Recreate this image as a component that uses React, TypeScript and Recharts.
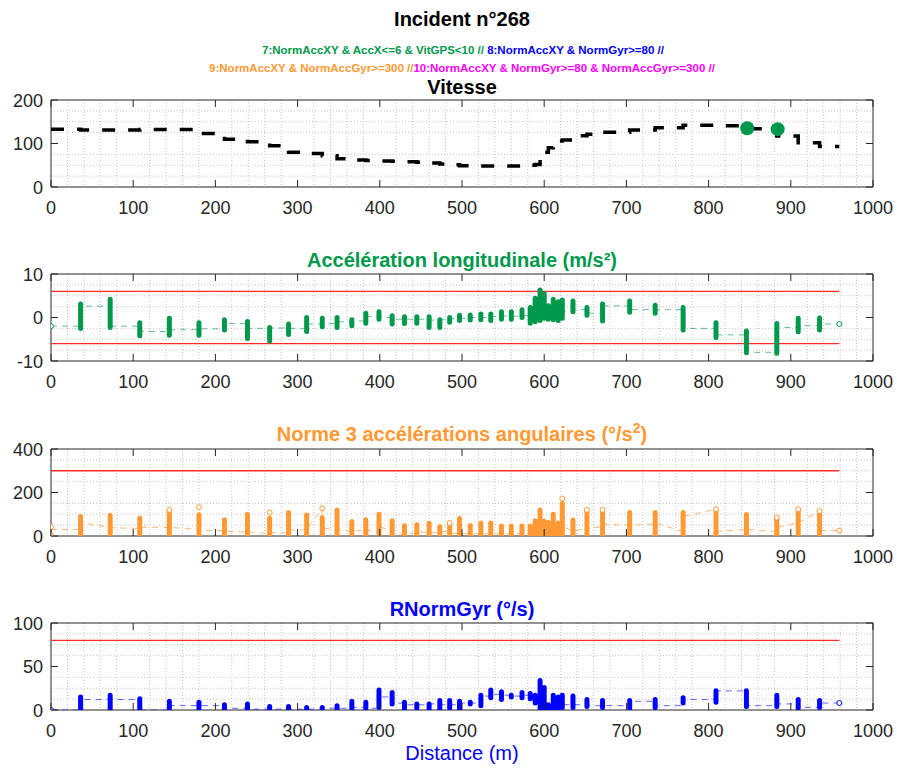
import React from 'react';
import { ComposedChart, Line, Scatter, XAxis, YAxis, CartesianGrid, ReferenceArea } from 'recharts';

const FONT = '"Liberation Sans", Arial, Helvetica, sans-serif';
const AXIS_COLOR = '#262626';
const GREEN = '#00994c';
const ORANGE = '#ff9933';
const BLUE = '#0000ff';
const MAGENTA = '#ff00ff';
const RED = '#ff2a2a';

const W = 897;
const LEFT = 51;
const RIGHT = 873;
const PLOT_W = RIGHT - LEFT;
const PLOT_H = 87;
const PAD_TOP = 10;
const PAD_BOTTOM = 40;

// x axis
const X_TICKS = [0, 100, 200, 300, 400, 500, 600, 700, 800, 900, 1000];
const X_MINOR = [20, 40, 60, 80, 120, 140, 160, 180, 220, 240, 260, 280, 320, 340, 360, 380, 420, 440, 460, 480, 520, 540, 560, 580, 620, 640, 660, 680, 720, 740, 760, 780, 820, 840, 860, 880, 920, 940, 960, 980];

// distance of each GPS station (m)
const DIST = [0, 36, 72, 108, 144, 180, 211, 239, 266, 289, 311, 330, 348, 366, 383, 399, 415, 430, 445, 460, 473, 485, 497, 510, 523, 535, 548, 560, 573, 583, 589, 595, 600, 605, 611, 617, 622, 635, 652, 671, 704, 735, 769, 809, 846, 883, 909, 935, 959];

// Vitesse (km/h) held after each station
const SPEED = [133, 131, 131, 132, 132, 123, 110, 104, 95, 80, 77, 72, 65, 62, 61, 60, 59, 58, 57, 55, 53, 51, 49, 48, 48, 48, 48, 48, 50, 50, 52, 62, 80, 90, 104, 106, 108, 118, 121, 126, 131, 136, 142, 141, 134, 117, 102, 93, 93];
const EVENT7_DIST = [847, 884];
const EVENT7_SPEED = [135, 133];

// Accélération longitudinale (m/s²): spread at each station and level carried to the next one
const ACC_LO = [null, -2.5, -2.3, -4.2, -4.1, -4.1, -2.9, -4.8, -5.4, -3.9, -3.2, -2.1, -2.3, -1.9, -1.3, -0.4, -1.5, -1.4, -1.3, -2.3, -2.3, -1.1, -0.7, -0.6, -0.5, -0.7, -0.4, -0.4, 0, -1.3, -1.0, -0.7, -0.2, -0.4, -0.5, -0.7, -0.2, 1.3, 0.5, -0.8, 1.2, 1.0, -2.9, -4.6, -8.1, -8.2, -3.3, -2.9, null];
const ACC_HI = [null, 3.1, 4.2, -1.2, -0.2, -1.2, -0.5, -0.9, -2.3, -1.5, 0, -0.2, 0, -0.5, 1.0, 1.3, 0.4, 0.2, 0.2, 0.2, -0.5, 0, 0.5, 0.6, 0.8, 0.8, 1.3, 1.3, 1.8, 2.3, 4.4, 6.3, 5.5, 2.7, 4.2, 3.6, 4.0, 3.8, 2.3, 3.1, 3.8, 2.8, 2.3, -1.2, -3.1, -1.4, -0.2, -0.1, null];
const ACC_LINK = [-2, 2.6, -2.0, -3.2, -2.8, -2.6, -1.4, -2.5, -2.4, -2.5, -1.5, -1.4, -1.0, -0.8, 0.2, 0, -0.4, -0.4, -0.4, -0.6, -0.5, -0.3, -0.2, 0, 0, 0.2, 0.3, 0.3, 0.5, 0.5, 1.0, 2.0, 1.0, 0.5, 1.0, 1.0, 1.5, 1.8, 1.0, 2.7, 1.8, 1.8, -2.5, -4.0, -8.0, -2.3, -1.9, -1.5, -1.5];
const ACC_MARK_DIST = [0, 959];
const ACC_MARK_VAL = [-2, -1.5];
const ACC_LIMIT = 6;

// Norme 3 accélérations angulaires (°/s²)
const ANG_LO = [null, 0, 0, 0, 0, 0, 0, 0, 0, 0, 0, 0, 0, 0, 0, 8, 0, 0, 0, 0, 0, 0, 0, 0, 0, 0, 0, 0, 0, 0, 0, 0, 0, 0, 0, 0, 0, 0, 0, 0, 0, 0, 0, 0, 0, 0, 0, 0, null];
const ANG_HI = [null, 90, 95, 82, 110, 98, 75, 100, 82, 108, 97, 85, 120, 67, 75, 100, 70, 47, 52, 59, 43, 55, 80, 48, 60, 60, 46, 46, 46, 46, 70, 120, 68, 62, 100, 60, 150, 74, 110, 115, 108, 108, 108, 115, 99, 80, 115, 100, null];
const ANG_IN = [30, 30, 40, 35, 40, 30, 25, 18, 10, 15, 28, 127, 30, 20, 25, 15, 20, 10, 15, 15, 15, 20, 10, 10, 10, 10, 10, 10, 10, 12, 15, 30, 20, 15, 20, 15, 30, 20, 40, 45, 50, 55, 20, 123, 30, 20, 60, 115, 25];
const ANG_OUT = [30, 62, 38, 40, 40, 25, 22, 20, 15, 28, 30, 35, 30, 25, 30, 45, 10, 10, 20, 15, 20, 15, 10, 10, 10, 10, 10, 10, 10, 12, 15, 30, 20, 15, 20, 15, 45, 20, 30, 55, 50, 60, 90, 20, 30, 40, 60, 25, 25];
const ANG_MARK_DIST = [0, 0, 144, 180, 266, 330, 485, 622, 652, 671, 809, 883, 909, 935, 959];
const ANG_MARK_VAL = [42, 5, 120, 132, 108, 127, 60, 172, 120, 120, 123, 85, 123, 115, 25];
const ANG_LIMIT = 300;

// RNormGyr (°/s)
const GYR_LO = [null, 0, 0, 0, 0, 0, 0, 0, 1, 0, 0, 0, 0, 0, 1, 3, 7, 0, 2, 1, 1, 2, 0, 7, 5, 14, 12, 15, 14, 13, 8, 0, 0, 0, 0, 2, 3, 3, 4, 3, 2, 3, 8, 9, 4, 4, 2, 3, null];
const GYR_HI = [null, 15, 17, 13, 10, 9, 6, 7, 4, 4, 3, 3, 5, 10, 9, 23, 20, 9, 7, 7, 11, 11, 10, 9, 17, 23, 21, 17, 20, 19, 17, 34, 26, 6, 17, 15, 17, 16, 12, 11, 11, 12, 14, 22, 22, 17, 12, 11, null];
const GYR_LINK = [0, 12, 12, 0, 5, 5, 2, 1, 1, 1, 1, 2, 2, 3, 2, 15, 8, 6, 6, 7, 6, 6, 8, 8, 16, 18, 17, 16, 17, 16, 14, 10, 3, 2, 3, 5, 6, 6, 5, 5, 10, 5, 12, 22, 5, 7, 3, 8, 8];
const GYR_MARK_DIST = [0, 959];
const GYR_MARK_VAL = [0, 8];
const GYR_LIMIT = 80;

const LIMIT_END = 959;

type Pt = { x: number; y: number | null };

// vertical spread at each station, separated by gaps
function spread(lo: (number | null)[], hi: (number | null)[]): Pt[] {
  const out: Pt[] = [];
  DIST.forEach((d, i) => {
    const a = lo[i];
    const b = hi[i];
    if (a == null || b == null) return;
    out.push({ x: d, y: a }, { x: d, y: b }, { x: d, y: null });
  });
  return out;
}

function series(values: number[]): Pt[] {
  return DIST.map((d, i) => ({ x: d, y: values[i] }));
}

function inOut(inV: number[], outV: number[]): Pt[] {
  const out: Pt[] = [];
  DIST.forEach((d, i) => {
    out.push({ x: d, y: inV[i] }, { x: d, y: outV[i] });
  });
  return out;
}

function marks(ds: number[], vs: number[]): Pt[] {
  return ds.map((d, i) => ({ x: d, y: vs[i] }));
}

function limit(v: number): Pt[] {
  return [{ x: 0, y: v }, { x: LIMIT_END, y: v }];
}

const XTick = (props: any) => {
  const { x, y, payload } = props;
  return (
    <g>
      <line x1={x} y1={y} x2={x} y2={y - 7} stroke={AXIS_COLOR} strokeWidth={1} />
      <line x1={x} y1={y - PLOT_H} x2={x} y2={y - PLOT_H + 7} stroke={AXIS_COLOR} strokeWidth={1} />
      <text x={x} y={y + 26.5} textAnchor="middle" fontSize={18} fontFamily={FONT} fill={AXIS_COLOR}>
        {payload.value}
      </text>
    </g>
  );
};

const YTick = (props: any) => {
  const { x, y, payload } = props;
  return (
    <g>
      <line x1={x} y1={y} x2={x + 7} y2={y} stroke={AXIS_COLOR} strokeWidth={1} />
      <line x1={x + PLOT_W - 7} y1={y} x2={x + PLOT_W} y2={y} stroke={AXIS_COLOR} strokeWidth={1} />
      <text x={x - 8} y={y + 6.5} textAnchor="end" fontSize={18} fontFamily={FONT} fill={AXIS_COLOR}>
        {payload.value}
      </text>
    </g>
  );
};

const hollow = (color: string) => (p: any) => (
  <circle cx={p.cx} cy={p.cy} r={2.5} fill="#ffffff" stroke={color} strokeWidth={1} />
);

const bigDot = (p: any) => <circle cx={p.cx} cy={p.cy} r={7} fill={GREEN} />;

function Panel(props: {
  top: number;
  domain: [number, number];
  ticks: number[];
  minor: number[];
  children: React.ReactNode;
}) {
  const { top, domain, ticks, minor, children } = props;
  return (
    <div style={{ position: 'absolute', left: 0, top: top - PAD_TOP }}>
      <ComposedChart
        width={W}
        height={PLOT_H + PAD_TOP + PAD_BOTTOM}
        margin={{ top: PAD_TOP, right: W - RIGHT, bottom: PAD_BOTTOM - 1, left: LEFT - 1 }}
      >
        <CartesianGrid
          stroke="#c4c4c4"
          strokeDasharray="1 2"
          verticalValues={X_MINOR}
          horizontalValues={minor}
        />
        <XAxis
          type="number"
          dataKey="x"
          domain={[0, 1000]}
          ticks={X_TICKS}
          interval={0}
          height={1}
          tickSize={0}
          tickMargin={0}
          tickLine={false}
          axisLine={false}
          allowDataOverflow
          tick={XTick}
        />
        <YAxis
          type="number"
          dataKey="y"
          domain={domain}
          ticks={ticks}
          interval={0}
          width={1}
          tickSize={0}
          tickMargin={0}
          tickLine={false}
          axisLine={false}
          allowDataOverflow
          tick={YTick}
        />
        <ReferenceArea x1={0} x2={1000} y1={domain[0]} y2={domain[1]} fill="none" stroke={AXIS_COLOR} strokeWidth={1} ifOverflow="visible" />
        {children}
      </ComposedChart>
    </div>
  );
}

export default function App() {
  return (
    <div style={{ position: 'absolute', left: 0, top: 0, width: W, height: 769, background: '#ffffff', fontFamily: FONT }}>
      <Panel top={100} domain={[0, 200]} ticks={[0, 100, 200]} minor={[25, 50, 75, 125, 150, 175]}>
        <Line
          data={series(SPEED)}
          dataKey="y"
          type="stepAfter"
          stroke="#000000"
          strokeWidth={3.5}
          strokeDasharray="13 13"
          dot={false}
          isAnimationActive={false}
        />
        <Scatter data={marks(EVENT7_DIST, EVENT7_SPEED)} dataKey="y" shape={bigDot} isAnimationActive={false} />
      </Panel>

      <Panel top={274} domain={[-10, 10]} ticks={[-10, 0, 10]} minor={[-7.5, -5, -2.5, 2.5, 5, 7.5]}>
        <Line data={limit(ACC_LIMIT)} dataKey="y" stroke={RED} strokeWidth={1.3} dot={false} isAnimationActive={false} />
        <Line data={limit(-ACC_LIMIT)} dataKey="y" stroke={RED} strokeWidth={1.3} dot={false} isAnimationActive={false} />
        <Line
          data={series(ACC_LINK)}
          dataKey="y"
          type="stepAfter"
          stroke={GREEN}
          strokeOpacity={0.6}
          strokeWidth={1}
          strokeDasharray="6 5"
          dot={false}
          isAnimationActive={false}
        />
        <Line
          data={spread(ACC_LO, ACC_HI)}
          dataKey="y"
          stroke={GREEN}
          strokeWidth={5}
          strokeLinecap="round"
          dot={false}
          isAnimationActive={false}
        />
        <Scatter data={marks(ACC_MARK_DIST, ACC_MARK_VAL)} dataKey="y" shape={hollow(GREEN)} isAnimationActive={false} />
      </Panel>

      <Panel top={449} domain={[0, 400]} ticks={[0, 200, 400]} minor={[50, 100, 150, 250, 300, 350]}>
        <Line data={limit(ANG_LIMIT)} dataKey="y" stroke={RED} strokeWidth={1.3} dot={false} isAnimationActive={false} />
        <Line
          data={inOut(ANG_IN, ANG_OUT)}
          dataKey="y"
          stroke={ORANGE}
          strokeOpacity={0.7}
          strokeWidth={1}
          strokeDasharray="6 5"
          dot={false}
          isAnimationActive={false}
        />
        <Line
          data={spread(ANG_LO, ANG_HI)}
          dataKey="y"
          stroke={ORANGE}
          strokeWidth={5}
          strokeLinecap="round"
          dot={false}
          isAnimationActive={false}
        />
        <Scatter data={marks(ANG_MARK_DIST, ANG_MARK_VAL)} dataKey="y" shape={hollow(ORANGE)} isAnimationActive={false} />
      </Panel>

      <Panel top={623} domain={[0, 100]} ticks={[0, 50, 100]} minor={[12.5, 25, 37.5, 62.5, 75, 87.5]}>
        <Line data={limit(GYR_LIMIT)} dataKey="y" stroke={RED} strokeWidth={1.3} dot={false} isAnimationActive={false} />
        <Line
          data={series(GYR_LINK)}
          dataKey="y"
          type="stepAfter"
          stroke={BLUE}
          strokeOpacity={0.6}
          strokeWidth={1}
          strokeDasharray="6 5"
          dot={false}
          isAnimationActive={false}
        />
        <Line
          data={spread(GYR_LO, GYR_HI)}
          dataKey="y"
          stroke={BLUE}
          strokeWidth={5}
          strokeLinecap="round"
          dot={false}
          isAnimationActive={false}
        />
        <Scatter data={marks(GYR_MARK_DIST, GYR_MARK_VAL)} dataKey="y" shape={hollow(BLUE)} isAnimationActive={false} />
      </Panel>

      <svg width={W} height={769} style={{ position: 'absolute', left: 0, top: 0, pointerEvents: 'none' }} fontFamily={FONT}>
        <text x={462} y={26} textAnchor="middle" fontSize={20} fontWeight="bold" fill="#000000">
          Incident n°268
        </text>
        <text x={463} y={54} textAnchor="middle" fontSize={11.5} fontWeight="bold">
          <tspan fill={GREEN}>7:NormAccXY &amp; AccX&lt;=6 &amp; VitGPS&lt;10 // </tspan>
          <tspan fill={BLUE}>8:NormAccXY &amp; NormGyr&gt;=80 //</tspan>
        </text>
        <text x={462} y={72} textAnchor="middle" fontSize={11.5} fontWeight="bold">
          <tspan fill={ORANGE}>9:NormAccXY &amp; NormAccGyr&gt;=300 //</tspan>
          <tspan fill={MAGENTA}>10:NormAccXY &amp; NormGyr&gt;=80 &amp; NormAccGyr&gt;=300 //</tspan>
        </text>
        <text x={462} y={93.5} textAnchor="middle" fontSize={20} fontWeight="bold" fill="#000000">
          Vitesse
        </text>
        <text x={462} y={267} textAnchor="middle" fontSize={20} fontWeight="bold" fill={GREEN}>
          Accélération longitudinale (m/s²)
        </text>
        <text x={462} y={440.5} textAnchor="middle" fontSize={20} fontWeight="bold" fill={ORANGE}>
          Norme 3 accélérations angulaires (°/s<tspan fontSize={14} dy={-8}>2</tspan><tspan dy={8}>)</tspan>
        </text>
        <text x={462} y={615.5} textAnchor="middle" fontSize={20} fontWeight="bold" fill={BLUE}>
          RNormGyr (°/s)
        </text>
        <text x={462} y={760} textAnchor="middle" fontSize={20} fill={BLUE}>
          Distance (m)
        </text>
      </svg>
    </div>
  );
}
